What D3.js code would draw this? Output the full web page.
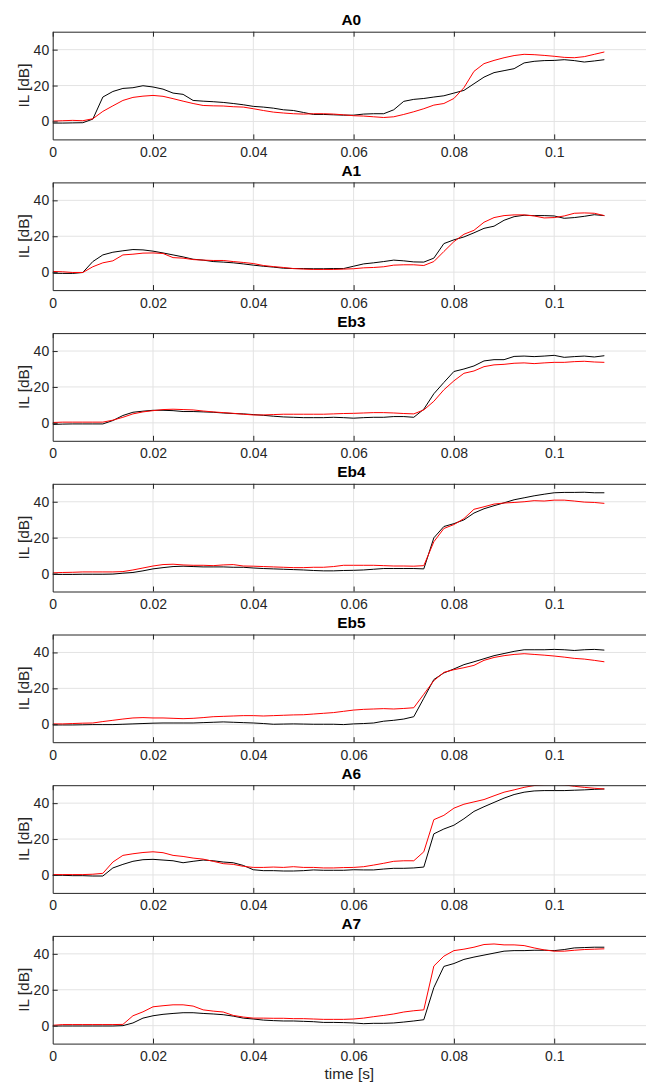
<!DOCTYPE html>
<html>
<head>
<meta charset="utf-8">
<script src="https://cdn.jsdelivr.net/npm/d3@7"></script>
<style>
  body { margin: 0; background: #fff; }
  svg { display: block; font-family: "Liberation Sans", Arial, Helvetica, sans-serif; }
</style>
</head>
<body>
<svg id="chart"></svg>
<script>
// sample times [s]
const time = [0, 0.002, 0.004, 0.006, 0.008, 0.010, 0.012, 0.014, 0.016, 0.018,
  0.020, 0.022, 0.024, 0.026, 0.028, 0.030, 0.032, 0.034, 0.036, 0.038,
  0.040, 0.042, 0.044, 0.046, 0.048, 0.050, 0.052, 0.054, 0.056, 0.058,
  0.060, 0.062, 0.064, 0.066, 0.068, 0.070, 0.072, 0.074, 0.076, 0.078,
  0.080, 0.082, 0.084, 0.086, 0.088, 0.090, 0.092, 0.094, 0.096, 0.098,
  0.100, 0.102, 0.104, 0.106, 0.108, 0.110];

const titles = ["A0", "A1", "Eb3", "Eb4", "Eb5", "A6", "A7"];

// black curves
const blackA0 = [-0.9, -0.9, -0.8, -0.7, 1.3, 13.6, 16.7, 18.4, 18.8, 19.9, 19.2, 18.0, 15.8, 15.1, 11.7, 11.3, 11.0, 10.6, 10.0, 9.3,
  8.4, 8.0, 7.4, 6.5, 6.1, 5.0, 3.9, 3.9, 3.7, 3.5, 3.5, 4.1, 4.3, 4.3, 6.5, 11.2, 12.3, 12.8, 13.6, 14.3,
  15.8, 17.3, 21.0, 24.7, 27.2, 28.3, 29.4, 32.6, 33.5, 33.9, 34.0, 34.4, 33.9, 33.1, 33.7, 34.4];
const blackA1 = [-0.6, -0.7, -0.7, -0.2, 5.9, 9.6, 11.1, 11.9, 12.6, 12.4, 11.7, 10.7, 9.6, 8.5, 7.2, 6.7, 5.9, 5.6, 5.2, 4.6,
  3.9, 3.3, 2.8, 2.2, 2.0, 2.0, 1.9, 1.9, 2.0, 2.0, 3.3, 4.6, 5.2, 5.9, 6.7, 6.3, 5.7, 5.6, 7.8, 15.9,
  18.0, 19.6, 21.9, 24.4, 25.6, 28.9, 30.9, 31.7, 31.5, 31.5, 31.3, 30.0, 30.4, 31.1, 32.0, 31.5];
const blackEb3 = [-0.9, -0.7, -0.6, -0.6, -0.6, -0.6, 1.3, 4.1, 5.9, 6.5, 7.0, 7.0, 6.8, 6.3, 6.3, 6.1, 5.9, 5.5, 5.2, 5.0,
  4.6, 4.2, 3.7, 3.3, 3.1, 2.9, 2.9, 2.9, 3.1, 2.9, 2.6, 2.9, 3.1, 3.1, 3.5, 3.5, 3.1, 7.6, 16.2, 22.5,
  28.6, 30.0, 31.7, 34.5, 35.2, 35.2, 37.0, 37.2, 36.9, 37.2, 37.6, 36.5, 36.9, 37.2, 36.7, 37.4];
const blackEb4 = [-0.5, -0.5, -0.5, -0.4, -0.4, -0.4, -0.3, 0.2, 0.6, 1.5, 2.6, 3.3, 3.9, 4.1, 3.9, 3.7, 3.7, 3.7, 3.5, 3.5,
  3.1, 2.8, 2.6, 2.4, 2.2, 2.0, 1.7, 1.5, 1.5, 1.7, 1.8, 2.0, 2.4, 2.8, 2.8, 2.8, 2.8, 2.6, 19.9, 26.2,
  27.8, 29.9, 33.7, 36.1, 37.8, 39.4, 41.1, 42.2, 43.3, 44.2, 45.0, 45.2, 45.2, 45.3, 45.0, 45.0];
const blackEb5 = [-0.4, -0.4, -0.4, -0.3, -0.2, -0.2, -0.2, 0.0, 0.2, 0.4, 0.6, 0.7, 0.7, 0.7, 0.7, 0.9, 1.1, 1.3, 1.1, 0.9,
  0.7, 0.4, 0.0, 0.1, 0.2, 0.1, 0.0, 0.0, 0.0, -0.2, 0.2, 0.4, 0.7, 1.7, 2.2, 2.9, 4.2, 14.5, 24.9, 28.6,
  30.8, 33.2, 34.8, 36.5, 38.2, 39.4, 40.6, 41.5, 41.5, 41.5, 41.7, 41.5, 41.1, 41.5, 41.7, 41.3];
const blackA6 = [-0.2, -0.2, -0.4, -0.4, -0.6, -0.6, 3.9, 5.9, 7.6, 8.5, 8.7, 8.3, 7.9, 6.8, 7.6, 8.3, 7.9, 7.2, 6.8, 5.3,
  2.9, 2.4, 2.4, 2.2, 2.2, 2.4, 2.8, 2.6, 2.6, 2.6, 2.9, 2.8, 2.8, 3.3, 3.7, 3.7, 3.9, 4.4, 22.9, 25.6,
  27.7, 31.3, 35.4, 38.0, 40.4, 42.8, 44.8, 46.1, 46.8, 47.0, 47.0, 47.0, 47.2, 47.4, 47.7, 47.9];
const blackA7 = [-0.2, -0.2, -0.2, -0.2, -0.2, -0.2, -0.2, 0.0, 1.5, 4.2, 5.5, 6.3, 6.8, 7.2, 7.2, 6.8, 6.5, 6.1, 5.3, 4.2,
  3.7, 3.1, 2.8, 2.6, 2.6, 2.4, 2.2, 1.8, 1.8, 1.7, 1.5, 1.1, 1.3, 1.3, 1.5, 2.0, 2.6, 3.3, 21.2, 33.0,
  34.6, 36.9, 38.2, 39.3, 40.4, 41.5, 41.8, 41.8, 42.0, 42.0, 41.8, 42.4, 43.3, 43.5, 43.7, 43.7];

// red curves
const redA0 = [0.2, 0.4, 0.6, 0.4, 1.5, 5.6, 8.7, 11.7, 13.4, 14.1, 14.5, 14.0, 12.7, 11.3, 10.0, 8.9, 8.7, 8.6, 8.2, 8.0,
  7.1, 6.1, 5.2, 4.7, 4.3, 4.1, 4.3, 4.3, 4.1, 3.7, 3.2, 3.0, 2.6, 2.2, 2.6, 3.9, 5.4, 7.1, 9.1, 10.0,
  12.8, 18.8, 27.9, 32.2, 34.0, 35.5, 36.7, 37.4, 37.2, 36.8, 36.3, 35.7, 35.5, 36.1, 37.4, 38.7];
const redA1 = [0.4, 0.2, -0.2, -0.2, 3.0, 5.2, 6.3, 9.6, 10.0, 10.6, 10.7, 10.4, 8.1, 7.8, 7.0, 6.7, 6.5, 6.5, 5.9, 5.4,
  4.8, 3.7, 3.1, 2.6, 2.0, 1.7, 1.5, 1.5, 1.5, 1.7, 1.9, 2.4, 2.6, 3.0, 3.9, 4.1, 4.1, 3.7, 5.9, 11.5,
  17.0, 21.1, 23.3, 27.8, 30.4, 31.5, 31.9, 31.9, 31.3, 30.2, 30.4, 31.3, 32.8, 33.0, 32.8, 31.5];
const redEb3 = [0.2, 0.4, 0.4, 0.4, 0.4, 0.4, 1.5, 3.1, 5.0, 6.1, 6.8, 7.4, 7.6, 7.4, 7.2, 6.6, 6.1, 5.7, 5.3, 4.8,
  4.4, 4.4, 4.6, 4.8, 4.8, 4.8, 4.8, 4.8, 5.0, 5.2, 5.3, 5.5, 5.7, 5.7, 5.5, 5.2, 5.0, 7.2, 12.0, 18.4,
  23.4, 27.6, 28.9, 31.3, 32.3, 32.6, 33.2, 33.4, 33.0, 33.4, 33.7, 33.7, 34.1, 34.3, 33.9, 33.7];
const redEb4 = [0.4, 0.6, 0.7, 0.9, 0.9, 0.9, 0.9, 1.1, 2.0, 3.1, 4.2, 5.0, 5.2, 4.8, 4.6, 4.6, 4.4, 4.8, 5.0, 4.2,
  4.1, 3.9, 3.7, 3.5, 3.3, 3.3, 3.5, 3.5, 3.9, 4.6, 4.6, 4.6, 4.6, 4.4, 4.2, 4.2, 4.1, 4.4, 17.7, 25.1,
  27.3, 30.6, 35.8, 37.2, 38.7, 39.3, 39.6, 40.0, 40.6, 40.4, 40.9, 40.9, 40.4, 39.8, 39.6, 39.1];
const redEb5 = [0.2, 0.2, 0.4, 0.6, 0.7, 1.5, 2.2, 2.9, 3.5, 3.7, 3.5, 3.5, 3.3, 3.1, 3.3, 3.7, 4.2, 4.4, 4.6, 4.8,
  4.8, 4.6, 4.8, 5.0, 5.2, 5.3, 5.7, 6.1, 6.5, 7.2, 7.9, 8.3, 8.5, 8.7, 8.5, 8.8, 9.2, 16.7, 24.3, 28.9,
  30.4, 31.5, 32.8, 35.6, 37.2, 38.2, 38.9, 39.3, 38.9, 38.5, 38.0, 37.4, 36.7, 36.3, 35.6, 34.8];
const redA6 = [0.2, 0.2, 0.2, 0.2, 0.4, 0.9, 7.2, 10.9, 11.8, 12.5, 12.9, 12.4, 10.9, 10.3, 9.4, 8.8, 7.6, 6.3, 5.9, 4.8,
  4.2, 4.2, 4.4, 4.2, 4.6, 4.2, 4.2, 3.9, 3.9, 4.1, 4.2, 4.6, 5.5, 6.5, 7.6, 7.9, 7.9, 12.9, 30.8, 33.2,
  37.2, 39.4, 40.7, 42.0, 44.1, 46.1, 47.4, 48.8, 49.8, 50.3, 50.4, 50.2, 49.4, 48.8, 48.3, 47.9];
const redA7 = [0.2, 0.6, 0.6, 0.6, 0.6, 0.6, 0.6, 0.7, 5.5, 7.7, 10.5, 11.1, 11.6, 11.6, 10.9, 8.8, 8.1, 7.6, 5.7, 4.8,
  4.2, 4.2, 4.1, 4.1, 3.9, 3.9, 3.7, 3.5, 3.5, 3.5, 3.7, 4.2, 5.0, 5.7, 6.5, 7.6, 8.3, 8.8, 33.2, 38.7,
  41.8, 42.6, 43.7, 45.2, 45.5, 45.0, 45.0, 44.6, 43.3, 42.2, 41.5, 41.5, 42.0, 42.4, 42.6, 42.8];

const blackSeries = [blackA0, blackA1, blackEb3, blackEb4, blackEb5, blackA6, blackA7];
const redSeries = [redA0, redA1, redEb3, redEb4, redEb5, redA6, redA7];

const xTicks = [0, 0.02, 0.04, 0.06, 0.08, 0.1];
const yTicks = [0, 20, 40];

const width = 646;
const height = 1083;
const axisColor = "#262626";
const gridColor = "#e3e3e3";

const left = 52.7;
const firstTop = 31.7;
const panelStep = 150.7;
const panelH = 107.7;

const svg = d3.select("#chart")
  .attr("width", width)
  .attr("height", height);

svg.append("rect").attr("width", width).attr("height", height).attr("fill", "#fff");

// x extends past the right edge of the figure (cropped in the original)
const x = d3.scaleLinear().domain([0, 0.12]).range([left, left + 0.12 * 5015]);

const line = d3.line()
  .x((d, i) => x(time[i]))
  .y(d => d);

titles.forEach((title, p) => {
  const top = firstTop + p * panelStep;
  const y = d3.scaleLinear().domain([-10, 50]).range([top + panelH, top]);
  const g = svg.append("g").attr("class", "panel");

  // grid
  g.append("g")
    .selectAll("line")
    .data(xTicks.filter(t => t > 0))
    .enter()
    .append("line")
    .attr("x1", d => x(d)).attr("x2", d => x(d))
    .attr("y1", top).attr("y2", top + panelH)
    .attr("stroke", gridColor).attr("stroke-width", 1);

  g.append("g")
    .selectAll("line")
    .data(yTicks)
    .enter()
    .append("line")
    .attr("x1", left).attr("x2", width)
    .attr("y1", d => y(d)).attr("y2", d => y(d))
    .attr("stroke", gridColor).attr("stroke-width", 1);

  // curves, clipped to the axes box
  const clipId = "clip" + p;
  g.append("clipPath").attr("id", clipId)
    .append("rect")
    .attr("x", left).attr("y", top)
    .attr("width", width - left).attr("height", panelH);

  const curves = g.append("g").attr("clip-path", `url(#${clipId})`);
  curves.append("path")
    .attr("d", line(blackSeries[p].map(v => y(v))))
    .attr("fill", "none").attr("stroke", "#000").attr("stroke-width", 1);
  curves.append("path")
    .attr("d", line(redSeries[p].map(v => y(v))))
    .attr("fill", "none").attr("stroke", "#ff0000").attr("stroke-width", 1);

  // axes (ticks pointing inward)
  const bottomAxis = g.append("g")
    .attr("transform", `translate(0,${top + panelH})`)
    .call(d3.axisBottom(x).tickValues(xTicks).tickSizeInner(-5).tickSizeOuter(0)
      .tickPadding(7.5).tickFormat(d => String(d)));

  const topAxis = g.append("g")
    .attr("transform", `translate(0,${top})`)
    .call(d3.axisTop(x).tickValues(xTicks).tickSizeInner(-5).tickSizeOuter(0).tickFormat(""));

  const leftAxis = g.append("g")
    .attr("transform", `translate(${left},0)`)
    .call(d3.axisLeft(y).tickValues(yTicks).tickSizeInner(-5).tickSizeOuter(0).tickPadding(3.5));

  [bottomAxis, topAxis, leftAxis].forEach(a => {
    a.select(".domain").attr("stroke", axisColor).attr("stroke-width", 1);
    a.selectAll(".tick line").attr("stroke", axisColor);
    a.selectAll("text")
      .attr("fill", axisColor)
      .attr("font-size", "14px")
      .attr("font-family", "Liberation Sans, Arial, sans-serif");
  });
  bottomAxis.selectAll(".tick").filter(d => d === 0).select("line").remove();

  // title
  g.append("text")
    .attr("x", (left + width) / 2 + 2)
    .attr("y", top - 6.5)
    .attr("text-anchor", "middle")
    .attr("font-size", "15.4px")
    .attr("font-weight", "bold")
    .attr("fill", "#000")
    .text(title);

  // y label
  g.append("text")
    .attr("transform", `translate(28.5,${top + panelH / 2}) rotate(-90)`)
    .attr("text-anchor", "middle")
    .attr("font-size", "15.4px")
    .attr("fill", axisColor)
    .text("IL [dB]");
});

svg.append("text")
  .attr("x", (left + width) / 2)
  .attr("y", 1079)
  .attr("text-anchor", "middle")
  .attr("font-size", "15.4px")
  .attr("fill", axisColor)
  .text("time [s]");
</script>
</body>
</html>
